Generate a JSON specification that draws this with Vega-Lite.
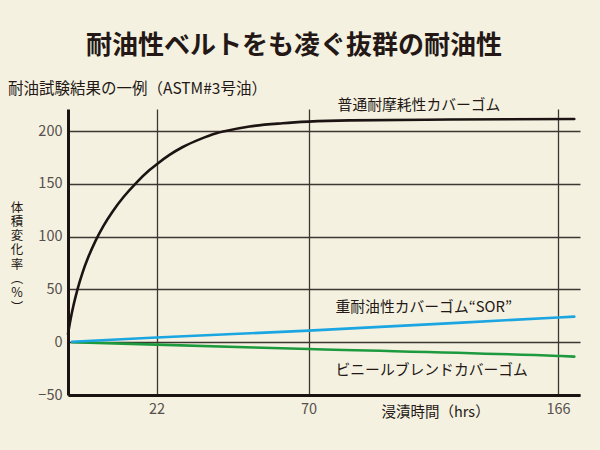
{
  "$schema": "https://vega.github.io/schema/vega-lite/v6.json",
  "autosize": "none",
  "width": 512,
  "height": 286,
  "padding": {"left": 68, "top": 109, "right": 20, "bottom": 55},
  "background": "#f5f1e1",
  "config": {
    "view": {"stroke": null},
    "font": "Noto Sans CJK JP",
    "axis": {"labelFont": "Noto Sans CJK JP", "titleFont": "Noto Sans CJK JP"}
  },
  "title": {
    "text": "耐油性ベルトをも凌ぐ抜群の耐油性",
    "anchor": "middle",
    "frame": "group",
    "dx": -30,
    "offset": 22,
    "fontSize": 26,
    "fontWeight": "bold",
    "color": "#231815"
  },
  "datasets": {
    "curves": [
      {"series": "普通耐摩耗性カバーゴム", "t": 0, "v": 8},
      {"series": "普通耐摩耗性カバーゴム", "t": 0.62, "v": 21.4},
      {"series": "普通耐摩耗性カバーゴム", "t": 1.37, "v": 35},
      {"series": "普通耐摩耗性カバーゴム", "t": 2.36, "v": 50.1},
      {"series": "普通耐摩耗性カバーゴム", "t": 3.6, "v": 65.8},
      {"series": "普通耐摩耗性カバーゴム", "t": 5.1, "v": 81.2},
      {"series": "普通耐摩耗性カバーゴム", "t": 6.84, "v": 96.1},
      {"series": "普通耐摩耗性カバーゴム", "t": 8.82, "v": 110.3},
      {"series": "普通耐摩耗性カバーゴム", "t": 11.06, "v": 123.7},
      {"series": "普通耐摩耗性カバーゴム", "t": 13.8, "v": 137.6},
      {"series": "普通耐摩耗性カバーゴム", "t": 17.03, "v": 151.3},
      {"series": "普通耐摩耗性カバーゴム", "t": 20.26, "v": 163.1},
      {"series": "普通耐摩耗性カバーゴム", "t": 22, "v": 168.5},
      {"series": "普通耐摩耗性カバーゴム", "t": 26.1, "v": 177.5},
      {"series": "普通耐摩耗性カバーゴム", "t": 30.3, "v": 185},
      {"series": "普通耐摩耗性カバーゴム", "t": 35.6, "v": 192.2},
      {"series": "普通耐摩耗性カバーゴム", "t": 40.9, "v": 198},
      {"series": "普通耐摩耗性カバーゴム", "t": 43.5, "v": 200},
      {"series": "普通耐摩耗性カバーゴム", "t": 51.4, "v": 204.5},
      {"series": "普通耐摩耗性カバーゴム", "t": 61.8, "v": 207.5},
      {"series": "普通耐摩耗性カバーゴム", "t": 70, "v": 209},
      {"series": "普通耐摩耗性カバーゴム", "t": 85.8, "v": 210.2},
      {"series": "普通耐摩耗性カバーゴム", "t": 124.3, "v": 211},
      {"series": "普通耐摩耗性カバーゴム", "t": 172.4, "v": 211.5},
      {"series": "ビニールブレンドカバーゴム", "t": 1.0, "v": 0},
      {"series": "ビニールブレンドカバーゴム", "t": 22, "v": -2.3},
      {"series": "ビニールブレンドカバーゴム", "t": 70, "v": -6.4},
      {"series": "ビニールブレンドカバーゴム", "t": 166, "v": -13},
      {"series": "ビニールブレンドカバーゴム", "t": 172.4, "v": -13.6},
      {"series": "重耐油性カバーゴム“SOR”", "t": 1.0, "v": 0.5},
      {"series": "重耐油性カバーゴム“SOR”", "t": 22, "v": 4.5},
      {"series": "重耐油性カバーゴム“SOR”", "t": 70, "v": 11},
      {"series": "重耐油性カバーゴム“SOR”", "t": 166, "v": 23.5},
      {"series": "重耐油性カバーゴム“SOR”", "t": 172.4, "v": 24.3}
    ],
    "labels": [
      {"label": "普通耐摩耗性カバーゴム", "t": 81.2, "v": 223.9},
      {"label": "重耐油性カバーゴム“SOR”", "t": 80.4, "v": 32.2},
      {"label": "ビニールブレンドカバーゴム", "t": 80.4, "v": -27}
    ]
  },
  "layer": [
    {
      "data": {"name": "curves"},
      "mark": {"type": "line", "interpolate": "monotone", "strokeWidth": 2.6, "strokeCap": "round"},
      "encoding": {
        "x": {
          "field": "t",
          "type": "quantitative",
          "scale": {"domain": [0, 22, 70, 166, 174.65], "range": [0, 88.5, 240.5, 490, 512], "nice": false, "zero": false},
          "axis": {
            "orient": "bottom",
            "values": [22, 70, 166],
            "grid": true,
            "gridColor": "#3d3731",
            "gridWidth": 1.3,
            "gridOpacity": 1,
            "domainColor": "#1a1311",
            "domainWidth": 3,
            "ticks": false,
            "labelFontSize": 14.5,
            "labelColor": "#55504b",
            "labelPadding": 7,
            "title": "浸漬時間（hrs）",
            "titleFontSize": 14.5,
            "titleFontWeight": "normal",
            "titleColor": "#231815",
            "titleAnchor": "start",
            "titleAlign": "left",
            "titleBaseline": "middle",
            "titleX": 313,
            "titleY": 17
          }
        },
        "y": {
          "field": "v",
          "type": "quantitative",
          "scale": {"domain": [-50, 221], "nice": false, "zero": false},
          "axis": {
            "values": [-50, 0, 50, 100, 150, 200],
            "grid": true,
            "gridColor": "#3d3731",
            "gridWidth": 1.3,
            "gridOpacity": 1,
            "domainColor": "#1a1311",
            "domainWidth": 3,
            "ticks": false,
            "labelFontSize": 14.5,
            "labelColor": "#55504b",
            "labelPadding": 6,
            "title": ["体", "積", "変", "化", "率", "", "︵", "%", "︶"],
            "titleAngle": 0,
            "titleFontSize": 12.5,
            "titleFontWeight": "normal",
            "titleLineHeight": 14.3,
            "titleColor": "#231815",
            "titleAlign": "center",
            "titleBaseline": "top",
            "titleX": -51.5,
            "titleY": 92
          }
        },
        "color": {
          "field": "series",
          "type": "nominal",
          "scale": {
            "domain": ["ビニールブレンドカバーゴム", "重耐油性カバーゴム“SOR”", "普通耐摩耗性カバーゴム"],
            "range": ["#1c9a3d", "#1ba6e2", "#1c1412"]
          },
          "legend": null
        }
      }
    },
    {
      "data": {"name": "labels"},
      "mark": {"type": "text", "align": "left", "baseline": "middle", "fontSize": 14.8, "color": "#231815"},
      "encoding": {
        "x": {
          "field": "t",
          "type": "quantitative",
          "axis": {
            "orient": "top",
            "labels": false,
            "ticks": false,
            "domain": false,
            "grid": false,
            "title": "耐油試験結果の一例（ASTM#3号油）",
            "titleFontSize": 15.5,
            "titleFontWeight": "normal",
            "titleColor": "#231815",
            "titleAnchor": "start",
            "titleAlign": "left",
            "titleBaseline": "middle",
            "titleX": -60.5,
            "titleY": -21
          }
        },
        "y": {"field": "v", "type": "quantitative"},
        "text": {"field": "label"}
      }
    }
  ],
  "resolve": {"axis": {"x": "independent"}}
}
